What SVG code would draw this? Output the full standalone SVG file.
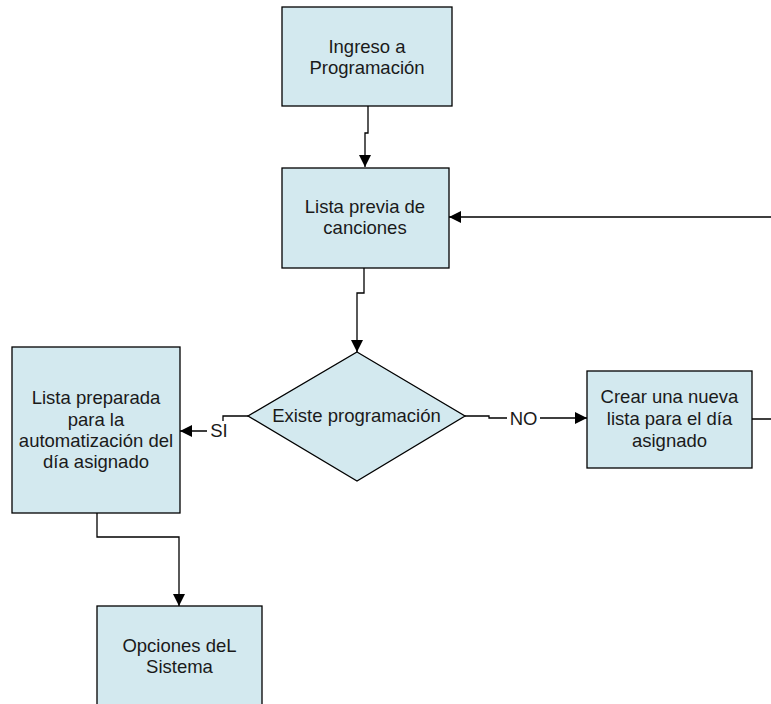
<svg xmlns="http://www.w3.org/2000/svg" width="771" height="704" viewBox="0 0 771 704">
  <style>
    .box { fill: #d3e9ef; stroke: #000000; stroke-width: 1.3; }
    .lbl { font-family: "Liberation Sans", Arial, sans-serif; font-size: 18.5px; fill: #1a1a1a; text-anchor: middle; }
    .wire { fill: none; stroke: #000000; stroke-width: 1.3; }
    .tag { fill: #ffffff; }
  </style>
  <defs>
    <marker id="arrow" viewBox="0 0 12 12" refX="12" refY="6" markerWidth="12" markerHeight="12" markerUnits="userSpaceOnUse" orient="auto">
      <path d="M0,0 L12,6 L0,12 Z" fill="#000000"/>
    </marker>
  </defs>
  <rect width="771" height="704" fill="#ffffff"/>

  <!-- connectors -->
  <g id="connectors">
    <path class="wire" d="M368,106 V133 H365 V167" marker-end="url(#arrow)"/>
    <path class="wire" d="M364,268 V293 H357 V352" marker-end="url(#arrow)"/>
    <path class="wire" d="M248,416 H223 V431 H180" marker-end="url(#arrow)"/>
    <path class="wire" d="M465,416 H489 V418 H587" marker-end="url(#arrow)"/>
    <path class="wire" d="M752,419 H790 V217 H449" marker-end="url(#arrow)"/>
    <path class="wire" d="M97,513 V537 H179 V606" marker-end="url(#arrow)"/>
    <g id="label-si">
      <rect class="tag" x="207" y="421" width="22" height="18"/>
      <text class="lbl" x="219" y="437">SI</text>
    </g>
    <g id="label-no">
      <rect class="tag" x="507" y="409" width="33" height="18"/>
      <text class="lbl" x="523.5" y="425">NO</text>
    </g>
  </g>

  <g id="ingreso">
    <rect class="box" x="282" y="7" width="170" height="99"/>
    <text class="lbl" x="367" y="53">Ingreso a</text>
    <text class="lbl" x="367" y="74">Programación</text>
  </g>

  <g id="lista-previa">
    <rect class="box" x="282" y="168" width="167" height="100"/>
    <text class="lbl" x="365" y="213">Lista previa de</text>
    <text class="lbl" x="365" y="234">canciones</text>
  </g>

  <g id="existe">
    <polygon class="box" points="357,352 465,416 357,481 248,416"/>
    <text class="lbl" x="356.5" y="422">Existe programación</text>
  </g>

  <g id="lista-preparada">
    <rect class="box" x="12" y="347" width="168" height="166"/>
    <text class="lbl" x="96" y="404">Lista preparada</text>
    <text class="lbl" x="96" y="426">para la</text>
    <text class="lbl" x="96" y="447">automatización del</text>
    <text class="lbl" x="96" y="468">día asignado</text>
  </g>

  <g id="crear-lista">
    <rect class="box" x="587" y="371" width="165" height="97"/>
    <text class="lbl" x="669.5" y="403">Crear una nueva</text>
    <text class="lbl" x="669.5" y="425">lista para el día</text>
    <text class="lbl" x="669.5" y="447">asignado</text>
  </g>

  <g id="opciones">
    <rect class="box" x="97" y="606" width="165" height="120"/>
    <text class="lbl" x="179.5" y="652">Opciones deL</text>
    <text class="lbl" x="179.5" y="673">Sistema</text>
  </g>
</svg>
